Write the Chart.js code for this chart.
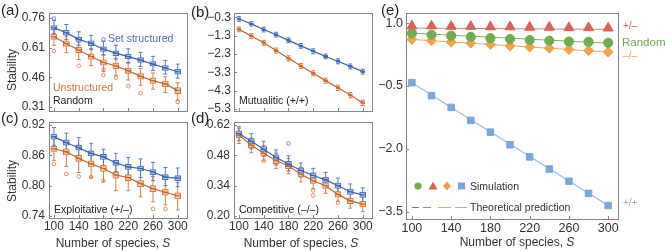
<!DOCTYPE html>
<html>
<head>
<meta charset="utf-8">
<script src="https://cdn.jsdelivr.net/npm/chart.js@4.4.1/dist/chart.umd.min.js"></script>
<style>
  html, body { margin: 0; padding: 0; background: #fff; }
  body { position: relative; width: 665px; height: 251px; overflow: hidden;
         font-family: "Liberation Sans", Arial, Helvetica, sans-serif; color: #222; }
  .cv { position: absolute; }
  .t { position: absolute; white-space: nowrap; line-height: 1; transform: translateY(-50%); }
  .lab { font-size: 15px; color: #222; }
  .note { font-size: 10.5px; }
  .ytitle { position: absolute; font-size: 12px; color: #333; white-space: nowrap; line-height: 1;
            transform: translate(-50%, -50%) rotate(-90deg); }
  .xtitle { position: absolute; font-size: 12px; color: #333; white-space: nowrap; line-height: 1;
            transform: translate(-50%, -50%); }
</style>
</head>
<body>
<canvas id="cA" class="cv" width="200" height="125" style="left:0;top:0"></canvas>
<canvas id="cB" class="cv" width="200" height="125" style="left:185px;top:0"></canvas>
<canvas id="cC" class="cv" width="200" height="142" style="left:0;top:109px"></canvas>
<canvas id="cD" class="cv" width="200" height="142" style="left:185px;top:109px"></canvas>
<canvas id="cE" class="cv" width="325" height="251" style="left:340px;top:0"></canvas>

<div class="t lab" style="left:1px;top:9px">(a)</div>
<div class="t lab" style="left:191px;top:11px">(b)</div>
<div class="t lab" style="left:1px;top:117px">(c)</div>
<div class="t lab" style="left:191px;top:117px">(d)</div>
<div class="t lab" style="left:381px;top:9px">(e)</div>

<div class="ytitle" style="left:12px;top:70px">Stability</div>
<div class="ytitle" style="left:12px;top:181px">Stability</div>
<div class="xtitle" style="left:113px;top:243px">Number of species, <i>S</i></div>
<div class="xtitle" style="left:301px;top:243px">Number of species, <i>S</i></div>
<div class="xtitle" style="left:517px;top:242px">Number of species, <i>S</i></div>

<div class="t note" style="left:108px;top:38px;color:#4a6eb3">Set structured</div>
<div class="t note" style="left:53px;top:87px;color:#c8773f">Unstructured</div>
<div class="t note" style="left:53px;top:100px;color:#222">Random</div>
<div class="t note" style="left:239px;top:100px;color:#222">Mutualitic (+/+)</div>
<div class="t note" style="left:54px;top:209px;color:#222">Exploitative (+/–)</div>
<div class="t note" style="left:239px;top:209px;color:#222">Competitive (–/–)</div>

<div class="t note" style="left:470px;top:186px;color:#333">Simulation</div>
<div class="t note" style="left:470px;top:207px;color:#333">Theoretical prediction</div>
<div class="t" style="left:623px;top:26px;font-size:10px;color:#d0675d">+/–</div>
<div class="t" style="left:622px;top:43px;font-size:11.5px;color:#6aa84f">Random</div>
<div class="t" style="left:623px;top:56px;font-size:10px;color:#e8a050">–/–</div>
<div class="t" style="left:623px;top:203px;font-size:10px;color:#9aaab8">+/+</div>

<script>
// number of species and tick labels
var S = [100, 120, 140, 160, 180, 200, 220, 240, 260, 280, 300];
var xTicks = [100, 140, 180, 220, 260, 300];
var aTicks = [0.31, 0.46, 0.61, 0.76];
var bTicks = [-5.3, -4.3, -3.3, -2.3, -1.3, -0.3];
var cTicks = [0.74, 0.80, 0.86, 0.92];
var dTicks = [0.20, 0.34, 0.48, 0.62];
var eTicks = [-3.5, -2.0, -0.5, 1.0];

// (a) random
var aBlueMed = [0.710, 0.685, 0.652, 0.632, 0.602, 0.582, 0.565, 0.547, 0.527, 0.507, 0.488];
var aBlueQ1  = [0.699, 0.673, 0.641, 0.620, 0.591, 0.570, 0.554, 0.535, 0.516, 0.495, 0.476];
var aBlueQ3  = [0.722, 0.697, 0.664, 0.645, 0.614, 0.594, 0.577, 0.560, 0.539, 0.520, 0.500];
var aBlueMin = [0.682, 0.652, 0.622, 0.600, 0.572, 0.552, 0.535, 0.515, 0.495, 0.476, 0.456];
var aBlueMax = [0.748, 0.727, 0.690, 0.672, 0.642, 0.622, 0.604, 0.586, 0.566, 0.546, 0.527];
var aBlueOut = [[100, 0.757], [180, 0.652]];
var aOrangeMed = [0.665, 0.630, 0.598, 0.565, 0.535, 0.518, 0.493, 0.465, 0.443, 0.427, 0.393];
var aOrangeQ1  = [0.652, 0.616, 0.585, 0.551, 0.521, 0.504, 0.480, 0.451, 0.429, 0.413, 0.378];
var aOrangeQ3  = [0.678, 0.644, 0.611, 0.579, 0.549, 0.532, 0.507, 0.479, 0.457, 0.441, 0.408];
var aOrangeMin = [0.622, 0.585, 0.550, 0.520, 0.490, 0.470, 0.447, 0.420, 0.400, 0.383, 0.345];
var aOrangeMax = [0.700, 0.668, 0.638, 0.606, 0.575, 0.556, 0.531, 0.505, 0.482, 0.463, 0.432];
var aOrangeOut = [[100, 0.593], [140, 0.518], [180, 0.500], [180, 0.472], [200, 0.458], [220, 0.415], [240, 0.380], [300, 0.336]];

// (b) mutualistic
var bBlueMed = [-0.39, -0.66, -0.97, -1.25, -1.56, -1.86, -2.15, -2.44, -2.70, -2.98, -3.27];
var bBlueQ1  = [-0.45, -0.72, -1.03, -1.31, -1.62, -1.92, -2.21, -2.50, -2.76, -3.04, -3.33];
var bBlueQ3  = [-0.33, -0.60, -0.91, -1.19, -1.50, -1.80, -2.09, -2.38, -2.64, -2.92, -3.21];
var bBlueMin = [-0.52, -0.78, -1.10, -1.38, -1.69, -1.99, -2.29, -2.57, -2.84, -3.12, -3.40];
var bBlueMax = [-0.26, -0.54, -0.84, -1.12, -1.43, -1.73, -2.02, -2.31, -2.57, -2.85, -3.14];
var bOrangeMed = [-0.96, -1.32, -1.69, -2.12, -2.54, -2.96, -3.36, -3.76, -4.15, -4.55, -4.97];
var bOrangeQ1  = [-1.02, -1.38, -1.75, -2.18, -2.60, -3.02, -3.42, -3.82, -4.21, -4.61, -5.03];
var bOrangeQ3  = [-0.90, -1.26, -1.63, -2.06, -2.48, -2.90, -3.30, -3.70, -4.09, -4.49, -4.91];
var bOrangeMin = [-1.09, -1.45, -1.83, -2.26, -2.68, -3.10, -3.50, -3.90, -4.30, -4.70, -5.12];
var bOrangeMax = [-0.83, -1.19, -1.56, -1.98, -2.40, -2.82, -3.22, -3.62, -4.01, -4.41, -4.83];

// (c) exploitative
var cBlueMed = [0.897, 0.885, 0.875, 0.864, 0.857, 0.845, 0.837, 0.834, 0.827, 0.817, 0.815];
var cBlueQ1  = [0.892, 0.880, 0.870, 0.859, 0.852, 0.840, 0.832, 0.829, 0.822, 0.812, 0.810];
var cBlueQ3  = [0.902, 0.890, 0.880, 0.869, 0.862, 0.850, 0.842, 0.839, 0.832, 0.822, 0.820];
var cBlueMin = [0.880, 0.868, 0.858, 0.846, 0.840, 0.828, 0.820, 0.816, 0.810, 0.800, 0.798];
var cBlueMax = [0.915, 0.904, 0.895, 0.884, 0.872, 0.864, 0.856, 0.853, 0.846, 0.836, 0.835];
var cOrangeMed = [0.873, 0.867, 0.854, 0.843, 0.834, 0.821, 0.816, 0.804, 0.794, 0.787, 0.780];
var cOrangeQ1  = [0.868, 0.861, 0.848, 0.837, 0.828, 0.815, 0.810, 0.798, 0.788, 0.781, 0.774];
var cOrangeQ3  = [0.878, 0.873, 0.860, 0.849, 0.840, 0.827, 0.822, 0.810, 0.800, 0.793, 0.786];
var cOrangeMin = [0.850, 0.838, 0.826, 0.816, 0.808, 0.790, 0.790, 0.778, 0.768, 0.762, 0.752];
var cOrangeMax = [0.893, 0.890, 0.880, 0.868, 0.858, 0.845, 0.840, 0.830, 0.818, 0.812, 0.806];
var cOrangeOut = [[100, 0.843], [120, 0.823], [140, 0.818], [160, 0.817], [180, 0.810], [260, 0.754], [280, 0.754]];

// (d) competitive
var dBlueMed = [0.581, 0.545, 0.508, 0.470, 0.440, 0.410, 0.387, 0.367, 0.340, 0.312, 0.298];
var dBlueQ1  = [0.569, 0.533, 0.496, 0.458, 0.428, 0.398, 0.375, 0.355, 0.328, 0.300, 0.286];
var dBlueQ3  = [0.593, 0.557, 0.520, 0.482, 0.452, 0.422, 0.399, 0.379, 0.352, 0.324, 0.310];
var dBlueMin = [0.548, 0.510, 0.476, 0.436, 0.408, 0.380, 0.355, 0.335, 0.310, 0.282, 0.266];
var dBlueMax = [0.612, 0.580, 0.545, 0.505, 0.478, 0.445, 0.420, 0.402, 0.375, 0.348, 0.330];
var dBlueOut = [[180, 0.535]];
var dOrangeMed = [0.574, 0.527, 0.490, 0.455, 0.432, 0.393, 0.363, 0.340, 0.300, 0.270, 0.255];
var dOrangeQ1  = [0.561, 0.514, 0.477, 0.442, 0.419, 0.380, 0.350, 0.327, 0.287, 0.257, 0.242];
var dOrangeQ3  = [0.587, 0.540, 0.503, 0.468, 0.445, 0.406, 0.376, 0.353, 0.313, 0.283, 0.268];
var dOrangeMin = [0.535, 0.492, 0.455, 0.420, 0.395, 0.358, 0.325, 0.305, 0.268, 0.236, 0.220];
var dOrangeMax = [0.605, 0.560, 0.525, 0.490, 0.465, 0.425, 0.398, 0.375, 0.335, 0.305, 0.290];
var dOrangeOut = [[140, 0.455], [220, 0.318], [220, 0.295], [260, 0.262]];

// (e) simulation vs theory
var eSimPM     = [0.93, 0.93, 0.92, 0.92, 0.91, 0.91, 0.90, 0.90, 0.89, 0.89, 0.88];
var eSimRandom = [0.755, 0.72, 0.70, 0.67, 0.64, 0.62, 0.595, 0.58, 0.56, 0.55, 0.53];
var eSimMM     = [0.61, 0.58, 0.545, 0.52, 0.49, 0.455, 0.43, 0.40, 0.37, 0.345, 0.31];
var eSimPP     = [-0.42, -0.73, -1.01, -1.32, -1.60, -1.90, -2.19, -2.48, -2.77, -3.06, -3.35];
var eTheoryS      = [100, 300];
var eTheoryPM     = [0.88, 0.85];
var eTheoryRandom = [0.76, 0.52];
var eTheoryMM     = [0.61, 0.31];
var eTheoryPP     = [-0.42, -3.35];

Chart.defaults.font.family = '"Liberation Sans", Arial, sans-serif';
Chart.defaults.color = '#333';

var BLUE = { line: '#3b62aa', box: '#a9c0e6', edge: '#4e72b6', whisk: '#5a7cbb' };
var ORANGE = { line: '#c4662c', box: '#f5c9a6', edge: '#d27a40', whisk: '#cf8450' };
var FRAME = '#858585';

function pts(xs, ys) {
  return xs.map(function(x, i) { return { x: x, y: ys[i] }; });
}

// box = floating bar, whiskers = broken line, median = line through the boxes
function boxSeries(col, med, q1, q3, lo, hi, outl, w) {
  var boxes = S.map(function(x, i) { return { x: x, y: [q1[i], q3[i]] }; });
  var whisk = [];
  S.forEach(function(x, i) {
    whisk.push({ x: x, y: lo[i] }, { x: x, y: hi[i] }, { x: x, y: null });
  });
  return [
    { type: 'line', data: outl.map(function(p) { return { x: p[0], y: p[1] }; }), showLine: false,
      pointStyle: 'circle', pointRadius: 1.8, pointBorderWidth: 0.8,
      pointBorderColor: col.edge, pointBackgroundColor: 'rgba(255,255,255,0)', order: 1 },
    { type: 'line', data: pts(S, med), borderColor: col.line, borderWidth: 1.2,
      pointStyle: 'line', pointRadius: w / 2, pointBorderColor: col.line, pointBorderWidth: 1, order: 2 },
    { type: 'bar', data: boxes, backgroundColor: col.box, borderColor: col.edge, borderWidth: 1,
      borderSkipped: false, barThickness: w, grouped: false, order: 3 },
    { type: 'line', data: whisk, borderColor: col.whisk, borderWidth: 1,
      pointStyle: 'line', pointRadius: 2, pointBorderColor: col.whisk, pointBorderWidth: 1, order: 4 }
  ];
}

function fmt2(v) { return v.toFixed(2); }
function fmt1(v) { return v.toFixed(1).replace('-', '\u2212'); }

// inward tick marks on the left and bottom edges
var tickPlugin = {
  id: 'inTicks',
  afterDraw: function(chart) {
    var a = chart.chartArea, ctx = chart.ctx;
    var L = Math.round(a.left), B = Math.round(a.bottom);
    ctx.save();
    ctx.strokeStyle = FRAME;
    ctx.lineWidth = 1;
    ctx.beginPath();
    chart.scales.x.ticks.forEach(function(t) {
      var px = Math.round(chart.scales.x.getPixelForValue(t.value)) + 0.5;
      ctx.moveTo(px, B); ctx.lineTo(px, B - 3);
    });
    chart.scales.y.ticks.forEach(function(t) {
      var py = Math.round(chart.scales.y.getPixelForValue(t.value)) + 0.5;
      ctx.moveTo(L, py); ctx.lineTo(L + 3, py);
    });
    ctx.stroke();
    ctx.restore();
  }
};

function panelOptions(g) {
  var edge = { display: true, color: FRAME, width: 1 };
  return {
    responsive: false,
    animation: false,
    events: [],
    layout: { padding: { top: g.padTop, right: g.padRight, left: 0, bottom: 0 } },
    plugins: { legend: { display: false }, tooltip: { enabled: false } },
    scales: {
      x: {
        type: 'linear', offset: false, min: g.xMin, max: g.xMax,
        afterBuildTicks: function(s) { s.ticks = g.xTicks.map(function(v) { return { value: v }; }); },
        afterFit: function(s) { s.height = g.xH; },
        grid: { display: false, drawTicks: false },
        border: edge,
        ticks: { display: g.xLabels, padding: g.xPad, font: { size: g.fs }, color: '#333',
                 maxRotation: 0, autoSkip: false, callback: function(v) { return String(v); } }
      },
      xTop: {
        type: 'linear', position: 'top', offset: false, min: g.xMin, max: g.xMax,
        afterFit: function(s) { s.height = 0; },
        grid: { display: false, drawTicks: false },
        border: edge,
        ticks: { display: false }
      },
      y: {
        type: 'linear', min: g.yMin, max: g.yMax,
        afterBuildTicks: function(s) { s.ticks = g.yTicks.map(function(v) { return { value: v }; }); },
        afterFit: function(s) { s.width = g.yW; },
        grid: { display: false, drawTicks: false },
        border: edge,
        ticks: { padding: g.yPad, font: { size: g.fs }, color: '#333', autoSkip: false, callback: g.yFmt }
      },
      yRight: {
        type: 'linear', position: 'right', min: g.yMin, max: g.yMax,
        afterFit: function(s) { s.width = 0; },
        grid: { display: false, drawTicks: false },
        border: edge,
        ticks: { display: false }
      }
    }
  };
}

new Chart(document.getElementById('cA'), {
  type: 'bar',
  data: { datasets: boxSeries(BLUE, aBlueMed, aBlueQ1, aBlueQ3, aBlueMin, aBlueMax, aBlueOut, 6)
    .concat(boxSeries(ORANGE, aOrangeMed, aOrangeQ1, aOrangeQ3, aOrangeMin, aOrangeMax, aOrangeOut, 6)) },
  options: panelOptions({ padTop: 13, padRight: 13, yW: 49, xH: 14, xMin: 92, xMax: 315, fs: 12,
    yMin: 0.29, yMax: 0.785, xTicks: xTicks, yTicks: aTicks, xLabels: false, xPad: 1, yPad: 4, yFmt: fmt2 }),
  plugins: [tickPlugin]
});

new Chart(document.getElementById('cB'), {
  type: 'bar',
  data: { datasets: boxSeries(BLUE, bBlueMed, bBlueQ1, bBlueQ3, bBlueMin, bBlueMax, [], 4)
    .concat(boxSeries(ORANGE, bOrangeMed, bOrangeQ1, bOrangeQ3, bOrangeMin, bOrangeMax, [], 4)) },
  options: panelOptions({ padTop: 13, padRight: 13, yW: 49, xH: 14, xMin: 92, xMax: 315, fs: 12,
    yMin: -5.42, yMax: -0.065, xTicks: xTicks, yTicks: bTicks, xLabels: false, xPad: 1, yPad: 3, yFmt: fmt1 }),
  plugins: [tickPlugin]
});

new Chart(document.getElementById('cC'), {
  type: 'bar',
  data: { datasets: boxSeries(BLUE, cBlueMed, cBlueQ1, cBlueQ3, cBlueMin, cBlueMax, [], 6)
    .concat(boxSeries(ORANGE, cOrangeMed, cOrangeQ1, cOrangeQ3, cOrangeMin, cOrangeMax, cOrangeOut, 6)) },
  options: panelOptions({ padTop: 13, padRight: 13, yW: 49, xH: 33, xMin: 92, xMax: 315, fs: 12,
    yMin: 0.736, yMax: 0.926, xTicks: xTicks, yTicks: cTicks, xLabels: true, xPad: 1, yPad: 4, yFmt: fmt2 }),
  plugins: [tickPlugin]
});

new Chart(document.getElementById('cD'), {
  type: 'bar',
  data: { datasets: boxSeries(BLUE, dBlueMed, dBlueQ1, dBlueQ3, dBlueMin, dBlueMax, dBlueOut, 6)
    .concat(boxSeries(ORANGE, dOrangeMed, dOrangeQ1, dOrangeQ3, dOrangeMin, dOrangeMax, dOrangeOut, 6)) },
  options: panelOptions({ padTop: 13, padRight: 13, yW: 49, xH: 33, xMin: 92, xMax: 315, fs: 12,
    yMin: 0.191, yMax: 0.634, xTicks: xTicks, yTicks: dTicks, xLabels: true, xPad: 1, yPad: 4, yFmt: fmt2 }),
  plugins: [tickPlugin]
});

// legend markers of panel (e), in canvas pixels
var eLegendPlugin = {
  id: 'eLegend',
  afterDraw: function(chart) {
    var ctx = chart.ctx, y = 186;
    ctx.save();
    ctx.fillStyle = '#72ab52';
    ctx.beginPath(); ctx.arc(78, y, 3.6, 0, Math.PI * 2); ctx.fill();
    ctx.fillStyle = '#d9625a';
    ctx.beginPath(); ctx.moveTo(93, y - 4.5); ctx.lineTo(97.5, y + 3.5); ctx.lineTo(88.5, y + 3.5); ctx.closePath(); ctx.fill();
    ctx.fillStyle = '#f2a24c';
    ctx.beginPath(); ctx.moveTo(107, y - 4.5); ctx.lineTo(111, y); ctx.lineTo(107, y + 4.5); ctx.lineTo(103, y); ctx.closePath(); ctx.fill();
    ctx.fillStyle = '#7ba7d7';
    ctx.fillRect(118, y - 3.5, 7, 7);
    var segs = [[72, 79, '#b0654a'], [83, 91, '#d97a6e'], [98, 111, '#f0a860'], [115, 127, '#8fb3db']];
    ctx.lineWidth = 1;
    segs.forEach(function(s) {
      ctx.strokeStyle = s[2];
      ctx.beginPath(); ctx.moveTo(s[0], 207.5); ctx.lineTo(s[1], 207.5); ctx.stroke();
    });
    ctx.restore();
  }
};

var eOpts = panelOptions({ padTop: 13, padRight: 47, yW: 66, xH: 32, xMin: 94, xMax: 310, fs: 12.5,
  yMin: -3.67, yMax: 1.24, xTicks: xTicks, yTicks: eTicks, xLabels: true, xPad: 2, yPad: 3, yFmt: fmt1 });

new Chart(document.getElementById('cE'), {
  type: 'line',
  data: {
    datasets: [
      { data: pts(S, eSimPM), showLine: false, pointStyle: 'triangle', pointRadius: 5.8,
        pointBackgroundColor: '#d9625a', pointBorderColor: '#d9625a', order: 1 },
      { data: pts(S, eSimRandom), showLine: false, pointStyle: 'circle', pointRadius: 4.6,
        pointBackgroundColor: '#72ab52', pointBorderColor: '#72ab52', order: 1 },
      { data: pts(S, eSimMM), showLine: false, pointStyle: 'rectRot', pointRadius: 5,
        pointBackgroundColor: '#f2a24c', pointBorderColor: '#f2a24c', order: 1 },
      { data: pts(S, eSimPP), showLine: false, pointStyle: 'rect', pointRadius: 4.6,
        pointBackgroundColor: '#7ba7d7', pointBorderColor: '#7ba7d7', order: 1 },
      { data: pts(eTheoryS, eTheoryPM), borderColor: '#d98078', borderWidth: 1, pointRadius: 0, order: 2 },
      { data: pts(eTheoryS, eTheoryRandom), borderColor: '#7cb35c', borderWidth: 1, pointRadius: 0, order: 2 },
      { data: pts(eTheoryS, eTheoryMM), borderColor: '#f0a860', borderWidth: 1, pointRadius: 0, order: 2 },
      { data: pts(eTheoryS, eTheoryPP), borderColor: '#9dbbdd', borderWidth: 1.2, pointRadius: 0, order: 2 }
    ]
  },
  options: eOpts,
  plugins: [tickPlugin, eLegendPlugin]
});
</script>
</body>
</html>
